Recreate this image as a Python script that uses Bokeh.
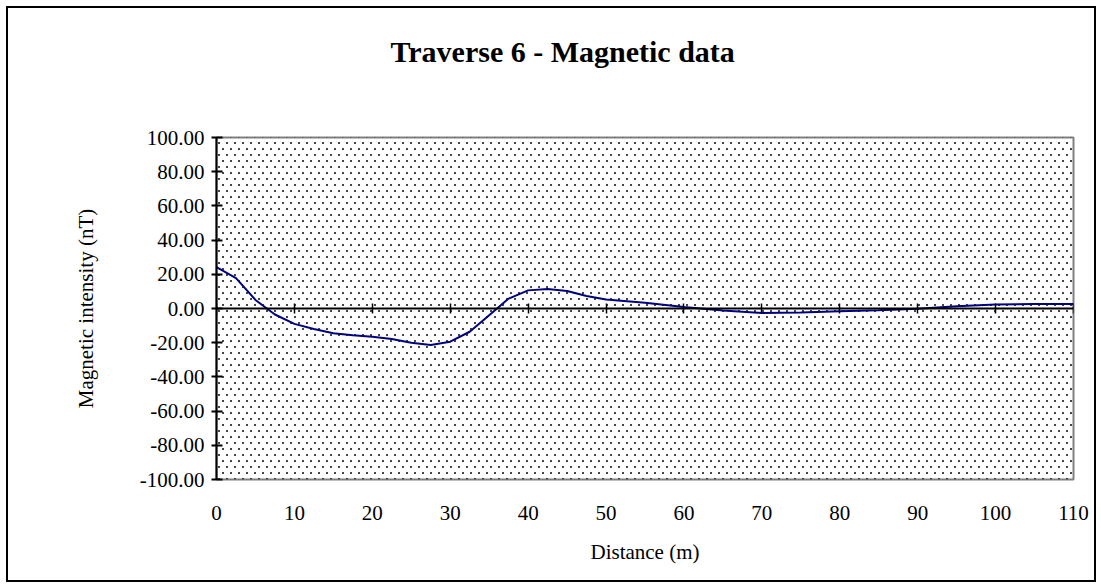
import zlib, struct, base64
from bokeh.plotting import figure
from bokeh.layouts import column
from bokeh.models import (Range1d, LinearAxis, FixedTicker, NumeralTickFormatter,
                          BoxAnnotation, Title, ImageURLTexture)
from bokeh.embed import file_html
from bokeh.resources import INLINE

# ---- data ----
distance = [0, 2.5, 5, 7.5, 10, 12.5, 15, 17.5, 20, 22.5, 25, 27.5, 30, 32.5, 35,
            37.5, 40, 42.5, 45, 47.5, 50, 55, 60, 65, 70, 75, 80, 85, 90, 95,
            100, 105, 110]
intensity = [24.2, 17.8, 5.0, -3.5, -9.0, -12.0, -14.5, -15.7, -16.5, -17.8, -20.0,
             -21.3, -19.4, -13.6, -3.9, 5.8, 10.6, 11.4, 10.2, 7.3, 5.2, 3.3, 0.9,
             -1.2, -2.6, -2.3, -1.6, -1.0, -0.2, 1.3, 2.3, 2.7, 2.7]
x_ticks = [0, 10, 20, 30, 40, 50, 60, 70, 80, 90, 100, 110]
y_ticks = [-100, -80, -60, -40, -20, 0, 20, 40, 60, 80, 100]

title_text = "Traverse 6 - Magnetic data"
x_label = "Distance (m)"
y_label = "Magnetic intensity (nT)"

FONT = "Liberation Serif"


def dot_tile_png():
    """Small staggered dot texture tile (24x24) as a PNG data URL."""
    n = 24
    px = [[(0, 0, 0, 0)] * n for _ in range(n)]
    for r in range(4):
        y = r * 6 + 2
        x0 = 2 if r % 2 == 0 else 6
        for c in range(3):
            x = x0 + c * 8
            for dy in (0, 1):
                for dx in (0, 1):
                    px[y + dy][x + dx] = (30, 30, 30, 210)
    raw = b"".join(b"\x00" + b"".join(struct.pack("4B", *p) for p in row) for row in px)

    def chunk(t, d):
        return struct.pack(">I", len(d)) + t + d + struct.pack(">I", zlib.crc32(t + d) & 0xffffffff)

    png = (b"\x89PNG\r\n\x1a\n" + chunk(b"IHDR", struct.pack(">IIBBBBB", n, n, 8, 6, 0, 0, 0))
           + chunk(b"IDAT", zlib.compress(raw)) + chunk(b"IEND", b""))
    return "data:image/png;base64," + base64.b64encode(png).decode()


p = figure(width=1086, height=572, output_backend="svg", toolbar_location=None,
           x_range=Range1d(0, 110), y_range=Range1d(-100, 100),
           x_axis_location=None, y_axis_location=None,
           min_border_left=208, min_border_right=21,
           min_border_top=129, min_border_bottom=101)
p.grid.visible = False
p.background_fill_color = "white"
p.border_fill_color = "white"
p.outline_line_color = "#808080"
p.outline_line_width = 2

# spacer between frame and title (nearest the frame), then the title
p.add_layout(Title(text=".", text_font_size="2px", text_color="white", standoff=67), "above")
p.add_layout(Title(text=title_text, text_font=FONT, text_font_size="30px",
                   text_font_style="bold", text_color="black",
                   align="left", offset=174, standoff=0), "above")

# dotted background pattern of the plot area
p.add_layout(BoxAnnotation(fill_alpha=0, line_alpha=0, hatch_pattern="dots",
                           hatch_extra={"dots": ImageURLTexture(url=dot_tile_png())},
                           hatch_color="black", hatch_scale=24, hatch_alpha=1.0,
                           level="underlay"))

# y axis
yax = LinearAxis(ticker=FixedTicker(ticks=y_ticks),
                 formatter=NumeralTickFormatter(format="0.00"),
                 axis_label=y_label,
                 axis_line_color="black", axis_line_width=2,
                 major_tick_line_color="black", major_tick_line_width=2,
                 major_tick_in=6, major_tick_out=5,
                 minor_tick_line_color=None,
                 major_label_standoff=7,
                 major_label_text_font=FONT, major_label_text_font_size="21px",
                 major_label_text_color="black",
                 axis_label_text_font=FONT, axis_label_text_font_size="21px",
                 axis_label_text_font_style="normal", axis_label_text_color="black",
                 axis_label_standoff=39)
p.add_layout(yax, "left")

# x axis crossing at zero (line + ticks only)
zax = LinearAxis(ticker=FixedTicker(ticks=x_ticks), fixed_location=0,
                 axis_line_color="black", axis_line_width=2,
                 major_tick_line_color="black", major_tick_line_width=1.5,
                 major_tick_in=5, major_tick_out=5,
                 minor_tick_line_color=None,
                 major_label_text_color=None)
p.add_layout(zax, "below")

# x labels at the bottom
xax = LinearAxis(ticker=FixedTicker(ticks=x_ticks),
                 axis_label=x_label,
                 axis_line_color=None, major_tick_line_color=None,
                 major_tick_in=0, major_tick_out=0,
                 minor_tick_line_color=None,
                 major_label_standoff=26,
                 major_label_text_font=FONT, major_label_text_font_size="21px",
                 major_label_text_color="black",
                 axis_label_text_font=FONT, axis_label_text_font_size="21px",
                 axis_label_text_font_style="normal", axis_label_text_color="black",
                 axis_label_standoff=17)
p.add_layout(xax, "below")

p.line(distance, intensity, line_color="#000080", line_width=2)

page = column(p, margin=(6, 6, 6, 6), styles={"border": "2px solid black"})

open("out.html", "w").write(file_html(page, INLINE))
